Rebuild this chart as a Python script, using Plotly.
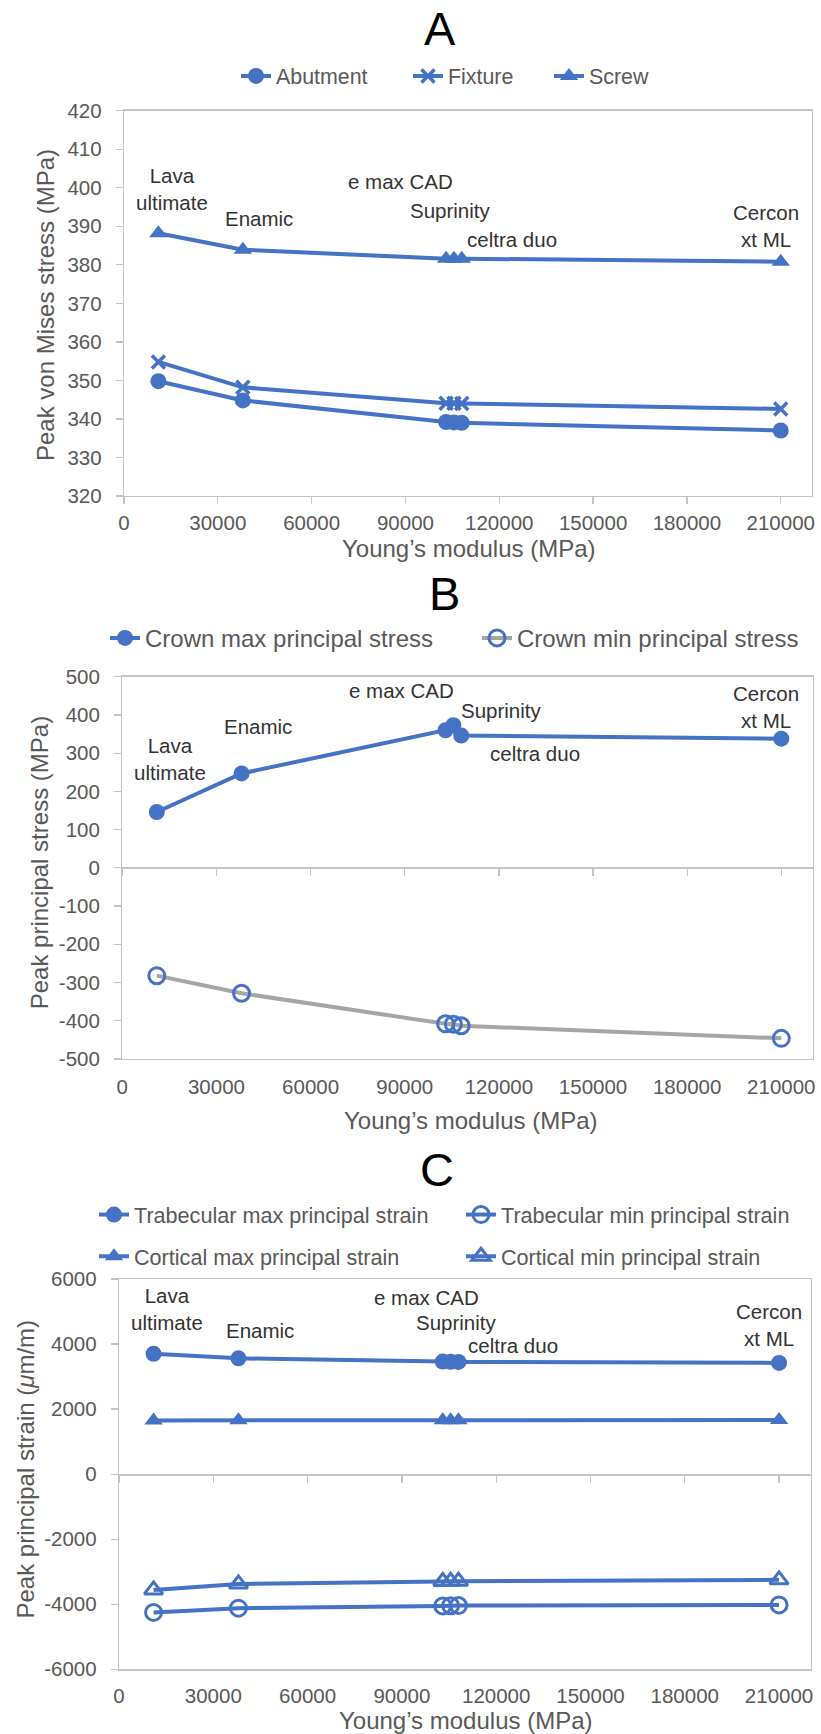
import plotly.graph_objects as go

# ---------------- data ----------------
materials = ["Lava ultimate", "Enamic", "e max CAD", "Suprinity", "celtra duo", "Cercon xt ML"]
youngs_modulus = [11000, 38000, 103000, 105500, 108000, 210000]

# Panel A: peak von Mises stress (MPa)
abutment = [349.8, 344.8, 339.2, 339.1, 339.0, 337.0]
fixture = [354.8, 348.2, 344.1, 344.1, 344.0, 342.6]
screw = [388.2, 383.9, 381.6, 381.6, 381.6, 380.8]

# Panel B: crown peak principal stress (MPa)
crown_max = [146, 247, 360, 373, 346, 338]
crown_min = [-282, -328, -408, -409, -413, -446]

# Panel C: peak principal strain (um/m)
trab_max = [3700, 3560, 3460, 3455, 3450, 3420]
trab_min = [-4250, -4120, -4050, -4045, -4040, -4020]
cort_max = [1650, 1660, 1660, 1660, 1660, 1665]
cort_min = [-3560, -3375, -3300, -3295, -3290, -3250]

x_ticks = [0, 30000, 60000, 90000, 120000, 150000, 180000, 210000]
yA_ticks = [320, 330, 340, 350, 360, 370, 380, 390, 400, 410, 420]
yB_ticks = [-500, -400, -300, -200, -100, 0, 100, 200, 300, 400, 500]
yC_ticks = [-6000, -4000, -2000, 0, 2000, 4000, 6000]

# material label positions (data coordinates) for each panel
labels_text = ["Lava<br>ultimate", "Enamic", "e max CAD", "Suprinity", "celtra duo", "Cercon<br>xt ML"]
labA_x = [15250, 43250, 88540, 104300, 124000, 205400]
labA_y = [399.8, 392.1, 401.6, 394.0, 386.6, 390.1]
labB_x = [15190, 43090, 89080, 120800, 131400, 205000]
labB_y = [285.9, 370.7, 463, 412.5, 299.2, 420.3]
labC_x = [15400, 44790, 97740, 107400, 125200, 206700]
labC_y = [5091, 4405, 5429, 4673, 3944, 4583]

# ---------------- style ----------------
W, H = 821, 1734
BLUE = "#4472C4"
GRAY = "#A5A5A5"
AXC = "#C4C4C4"
TXT = "#595959"
LAB = "#333333"
FONT = "Liberation Sans, Arial, sans-serif"


def px(x):
    return x / W


def py(y):
    return 1 - y / H


fig = go.Figure()


def add(x, y, name, xa, ya, legend, symbol, lcolor=BLUE, msize=16, mline=0, lw=None):
    fig.add_trace(go.Scatter(
        x=x, y=y, name=name, xaxis=xa, yaxis=ya, legend=legend,
        mode="lines+markers",
        line=dict(color=lcolor, width=4),
        marker=dict(symbol=symbol, size=msize, color=BLUE,
                    line=dict(color=BLUE, width=mline)),
        hoverinfo="skip", legendwidth=lw,
    ))


# A
add(youngs_modulus, abutment, "Abutment", "x", "y", "legend", "circle", lw=127)
add(youngs_modulus, fixture, "Fixture", "x", "y", "legend", "x-thin", msize=13, mline=3.5, lw=96)
add(youngs_modulus, screw, "Screw", "x", "y", "legend", "triangle-up")
# B
add(youngs_modulus, crown_max, "Crown max principal stress", "x2", "y2", "legend2", "circle", lw=327)
add(youngs_modulus, crown_min, "Crown min principal stress", "x2", "y2", "legend2", "circle-open",
    lcolor=GRAY, msize=16, mline=3)
# C
add(youngs_modulus, trab_max, "Trabecular max principal strain", "x3", "y3", "legend3", "circle")
add(youngs_modulus, trab_min, "Trabecular min principal strain", "x3", "y3", "legend3", "circle-open",
    msize=16, mline=3)
add(youngs_modulus, cort_max, "Cortical max principal strain", "x3", "y3", "legend4", "triangle-up")
add(youngs_modulus, cort_min, "Cortical min principal strain", "x3", "y3", "legend4", "triangle-up-open",
    msize=16, mline=3)

# invisible helpers so the zero-crossing tick axes are drawn
fig.add_trace(go.Scatter(x=youngs_modulus, y=crown_max, xaxis="x4", yaxis="y2", mode="markers",
                         marker=dict(opacity=0), showlegend=False, hoverinfo="skip"))
fig.add_trace(go.Scatter(x=youngs_modulus, y=trab_max, xaxis="x5", yaxis="y3", mode="markers",
                         marker=dict(opacity=0), showlegend=False, hoverinfo="skip"))

tickfont = dict(family=FONT, size=20.5, color=TXT)


def xaxis(domain, anchor, ticks, standoff):
    return dict(domain=domain, anchor=anchor, range=[0, 220000], tickvals=x_ticks,
                ticktext=[str(v) for v in x_ticks], showgrid=False, zeroline=False,
                showline=True, linecolor=AXC, linewidth=1.3, mirror=True,
                ticks=ticks, ticklen=7, tickwidth=1.3, tickcolor=AXC,
                tickfont=tickfont, ticklabelstandoff=standoff, fixedrange=True)


def yaxis(domain, anchor, rng, tv, zl=False):
    return dict(domain=domain, anchor=anchor, range=rng, tickvals=tv,
                ticktext=[str(v) for v in tv], showgrid=False,
                zeroline=zl, zerolinecolor=AXC, zerolinewidth=1.3,
                showline=True, linecolor=AXC, linewidth=1.3, mirror=True,
                ticks="outside", ticklen=7, tickwidth=1.3, tickcolor=AXC,
                tickfont=tickfont, ticklabelstandoff=10, fixedrange=True)


domA_x = [px(124), px(812)]
domA_y = [py(496), py(110.7)]
domB_x = [px(122.3), px(812.7)]
domB_y = [py(1059), py(676.7)]
domC_x = [px(119), px(810.5)]
domC_y = [py(1669.3), py(1279)]


def zero_axis(overlay, dom, pos):
    return dict(overlaying=overlay, anchor="free", position=pos, domain=dom,
                range=[0, 220000], tickvals=x_ticks, showticklabels=False,
                showgrid=False, zeroline=False, showline=True, linecolor=AXC, linewidth=1.3,
                ticks="outside", ticklen=7, tickwidth=1.3, tickcolor=AXC, fixedrange=True)


leg_common = dict(orientation="h", bgcolor="rgba(0,0,0,0)", borderwidth=0,
                  xanchor="left", yanchor="middle", itemclick=False, itemdoubleclick=False,
                  tracegroupgap=0)

fig.update_layout(
    width=W, height=H, autosize=False,
    margin=dict(l=0, r=0, t=0, b=0, pad=0, autoexpand=False),
    paper_bgcolor="white", plot_bgcolor="white",
    font=dict(family=FONT, color=TXT),
    xaxis=xaxis(domA_x, "y", "outside", 1),
    yaxis=yaxis(domA_y, "x", [320, 420], yA_ticks),
    xaxis2=xaxis(domB_x, "y2", "", 9),
    yaxis2=yaxis(domB_y, "x2", [-500, 500], yB_ticks, zl=True),
    xaxis3=xaxis(domC_x, "y3", "", 8),
    yaxis3=yaxis(domC_y, "x3", [-6000, 6000], yC_ticks, zl=True),
    xaxis4=zero_axis("x2", domB_x, py(867.7)),
    xaxis5=zero_axis("x3", domC_x, py(1474.3)),
    legend=dict(leg_common, x=px(236), y=py(76), font=dict(family=FONT, size=21.4, color=TXT)),
    legend2=dict(leg_common, x=px(105), y=py(638.3), font=dict(family=FONT, size=24, color=TXT)),
    legend3=dict(leg_common, x=px(94), y=py(1215), font=dict(family=FONT, size=21.6, color=TXT),
                 entrywidth=322),
    legend4=dict(leg_common, x=px(94), y=py(1256.7), font=dict(family=FONT, size=21.6, color=TXT),
                 entrywidth=322),
    showlegend=True,
)

ann = []
# panel titles
for t, x, y in [("A", 440, 29), ("B", 444, 594), ("C", 437, 1169)]:
    ann.append(dict(text=t, x=px(x), y=py(y), xref="paper", yref="paper", showarrow=False,
                    xanchor="center", yanchor="middle", font=dict(family=FONT, size=47, color="black")))
# x axis titles
for x, y in [(468.6, 548.3), (470, 1120), (465, 1720)]:
    ann.append(dict(text="Young\u2019s modulus (MPa)", x=px(x), y=py(y), xref="paper", yref="paper",
                    showarrow=False, xanchor="center", yanchor="middle",
                    font=dict(family=FONT, size=24, color=TXT)))
# y axis titles
for t, x, y in [("Peak von Mises stress (MPa)", 45, 305),
                ("Peak principal stress (MPa)", 39.3, 863),
                ("Peak principal strain (<i>\u03bc</i>m/m)", 25, 1469.5)]:
    ann.append(dict(text=t, x=px(x), y=py(y), xref="paper", yref="paper", showarrow=False,
                    textangle=-90, xanchor="center", yanchor="middle",
                    font=dict(family=FONT, size=24, color=TXT)))
# material labels
for xr, yr, lx, ly in [("x", "y", labA_x, labA_y), ("x2", "y2", labB_x, labB_y), ("x3", "y3", labC_x, labC_y)]:
    for t, x, y in zip(labels_text, lx, ly):
        ann.append(dict(text=t, x=x, y=y, xref=xr, yref=yr, showarrow=False,
                        xanchor="center", yanchor="middle",
                        font=dict(family=FONT, size=20.5, color=LAB)))
fig.update_layout(annotations=ann)

fig.write_html("out.html",
               config=dict(displayModeBar=False, staticPlot=True),
               post_script="document.body.style.margin='0px'; document.body.style.overflow='hidden';")
